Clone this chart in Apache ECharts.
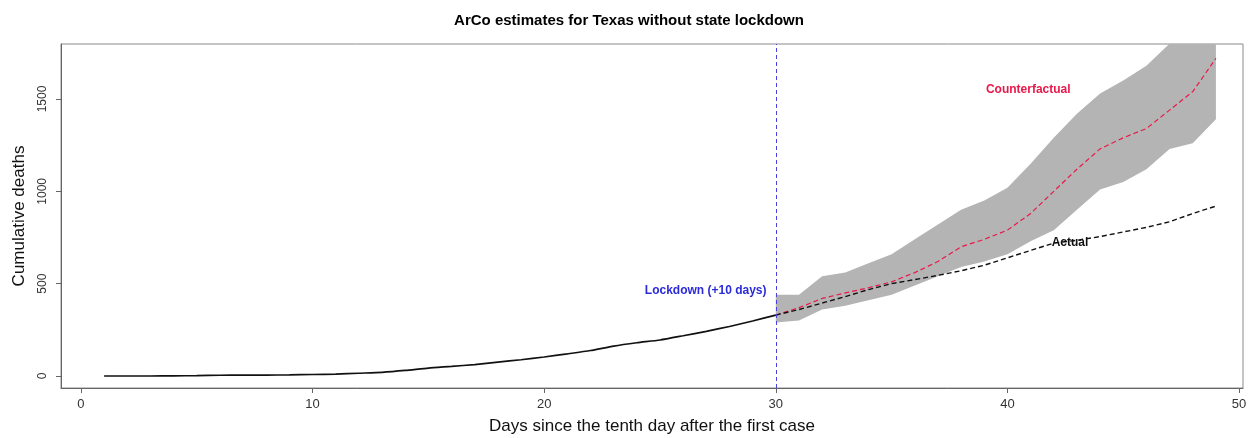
<!DOCTYPE html>
<html>
<head>
<meta charset="utf-8">
<script src="https://cdn.jsdelivr.net/npm/echarts@6/dist/echarts.min.js"></script>
<style>
  html, body { margin: 0; padding: 0; background: #fff; }
  #app { width: 1258px; height: 438px; }
</style>
</head>
<body>
<div id="app"></div>
<script>
// days since the tenth day after the first case
var days = [1,2,3,4,5,6,7,8,9,10,11,12,13,14,15,16,17,18,19,20,21,22,23,24,25,
  26,27,28,29,30,31,32,33,34,35,36,37,38,39,40,41,42,43,44,45,46,47,48,49];
// actual cumulative deaths
var actual = [0,0,0,1,2,4,5,5,6,8,10,15,20,30,43,52,62,75,88,103,120,138,162,180,195,
  218,242,268,298,330,360,395,430,468,500,522,545,570,600,640,680,720,735,755,780,805,835,880,920];
// counterfactual estimate and its band, from day 30 on
var cfDays = [30,31,32,33,34,35,36,37,38,39,40,41,42,43,44,45,46,47,48,49];
var counterfactual = [330,370,420,450,478,510,560,620,700,740,790,880,1000,1120,1230,1290,1340,1440,1540,1720];
var upper = [440,440,540,560,610,660,740,820,900,950,1020,1150,1290,1420,1530,1600,1680,1800,1900,2000];
var lower = [290,300,360,380,410,440,490,540,590,620,660,730,790,900,1010,1050,1120,1230,1260,1390];
var xTicks = [0,10,20,30,40,50];
var yTicks = [0,500,1000,1500];
var lockdownDay = 30;

var font = 'Liberation Sans, Arial, sans-serif';

var pre = [], post = [];
days.forEach(function (d, i) {
  if (d <= lockdownDay) pre.push([d, actual[i]]);
  if (d >= lockdownDay) post.push([d, actual[i]]);
});
var cf = cfDays.map(function (d, i) { return [d, counterfactual[i]]; });

// band drawn as one polygon: upper edge forward, lower edge back
function renderBand(params, api) {
  var pts = [];
  cfDays.forEach(function (d, i) { pts.push(api.coord([d, upper[i]])); });
  for (var i = cfDays.length - 1; i >= 0; i--) pts.push(api.coord([cfDays[i], lower[i]]));
  var cs = params.coordSys;
  return {
    type: 'group',
    clipPath: { type: 'rect', shape: { x: cs.x, y: cs.y, width: cs.width, height: cs.height } },
    children: [{
      type: 'polygon',
      shape: { points: pts },
      style: { fill: '#b4b4b4', stroke: 'none' }
    }]
  };
}

var myChart = echarts.init(document.getElementById('app'));

var option = {
  animation: false,
  backgroundColor: '#fff',
  title: {
    text: 'ArCo estimates for Texas without state lockdown',
    left: 'center',
    top: 8,
    textStyle: { fontFamily: font, fontSize: 15, fontWeight: 'bold', color: '#000' }
  },
  grid: {
    left: 61, right: 15, top: 44, bottom: 50,
    outerBoundsMode: 'none',
    containLabel: false,
    show: true, borderColor: '#8a8a8a', borderWidth: 1, backgroundColor: '#fff'
  },
  xAxis: {
    type: 'value',
    min: -0.86,
    max: 50.17,
    name: 'Days since the tenth day after the first case',
    nameLocation: 'middle',
    nameGap: 30,
    nameTextStyle: { fontFamily: font, fontSize: 17, color: '#111' },
    axisLine: { show: true, onZero: false, lineStyle: { color: '#666' } },
    axisTick: { show: true, length: 5, customValues: xTicks, lineStyle: { color: '#666' } },
    axisLabel: { customValues: xTicks, fontFamily: font, fontSize: 13, color: '#333', margin: 10 },
    splitLine: { show: false }
  },
  yAxis: {
    type: 'value',
    min: -65,
    max: 1798,
    name: 'Cumulative deaths',
    nameLocation: 'middle',
    nameGap: 33,
    nameTextStyle: { fontFamily: font, fontSize: 17, color: '#111' },
    axisLine: { show: true, onZero: false, lineStyle: { color: '#666' } },
    axisTick: { show: true, length: 5, customValues: yTicks, lineStyle: { color: '#666' } },
    axisLabel: {
      customValues: yTicks, rotate: 90, fontFamily: font, fontSize: 12, color: '#333', margin: 12,
      formatter: function (v) { return String(v); }
    },
    splitLine: { show: false }
  },
  series: [
    {
      name: 'band',
      type: 'custom',
      renderItem: renderBand,
      data: [0],
      silent: true,
      z: 1
    },
    {
      name: 'Counterfactual',
      type: 'line',
      data: cf,
      symbol: 'none',
      lineStyle: { color: '#e8194a', width: 1.2, type: [5, 3] },
      z: 3,
      markPoint: {
        symbol: 'circle',
        symbolSize: 0,
        data: [{ coord: [40.9, 1550], value: 'Counterfactual' }],
        label: {
          show: true, position: 'inside', formatter: 'Counterfactual',
          fontFamily: font, fontSize: 12, fontWeight: 'bold', color: '#e8194a'
        }
      }
    },
    {
      name: 'ActualPre',
      type: 'line',
      data: pre,
      symbol: 'none',
      smooth: 0.2,
      lineStyle: { color: '#111', width: 1.7 },
      z: 4,
      markLine: {
        silent: true,
        symbol: 'none',
        label: { show: false },
        lineStyle: { color: '#4444dd', type: [4, 3], width: 1 },
        data: [{ xAxis: lockdownDay }]
      },
      markPoint: {
        symbol: 'circle',
        symbolSize: 0,
        data: [{ coord: [29.6, 460], value: 'Lockdown (+10 days)' }],
        label: {
          show: true, position: 'left', distance: 0, formatter: 'Lockdown (+10 days)',
          fontFamily: font, fontSize: 12, fontWeight: 'bold', color: '#2b2bd8'
        }
      }
    },
    {
      name: 'ActualPost',
      type: 'line',
      data: post,
      symbol: 'none',
      lineStyle: { color: '#111', width: 1.4, type: [5, 3] },
      z: 4,
      markPoint: {
        symbol: 'circle',
        symbolSize: 0,
        data: [{ coord: [42.7, 720], value: 'Actual' }],
        label: {
          show: true, position: 'inside', formatter: 'Actual',
          fontFamily: font, fontSize: 12, fontWeight: 'bold', color: '#111'
        }
      }
    }
  ]
};

myChart.setOption(option);
</script>
</body>
</html>
